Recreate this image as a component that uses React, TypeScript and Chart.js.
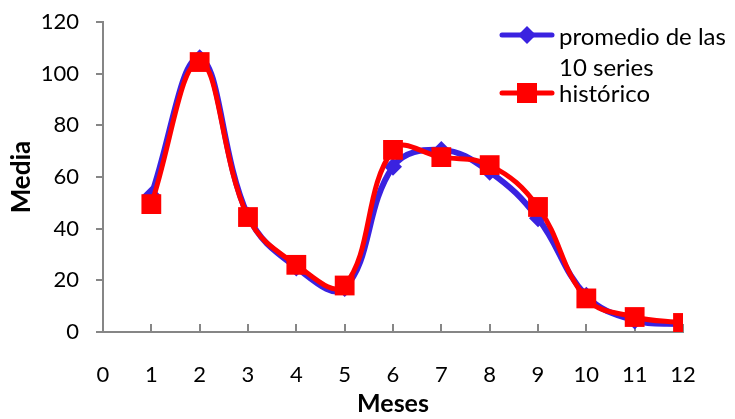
import React, { useEffect, useRef } from "react";
import { Chart, registerables } from "chart.js";

Chart.register(...registerables);

const months = [1, 2, 3, 4, 5, 6, 7, 8, 9, 10, 11, 12];
const promedio = [53, 106, 45, 25, 17, 64, 70.5, 62, 44, 14, 4.5, 3];
const historico = [49.5, 104.5, 44.5, 26, 18, 70.5, 67.7, 64.6, 48.4, 13, 5.8, 3.5];
const legendLabels = ["promedio de las", "10 series", "histórico"];

const BLUE = "#3a22e0";
const RED = "#ff0000";
const AXIS = "#868686";
const FONT = "Lato, 'Open Sans', sans-serif";

const decorPlugin = {
  id: "decor",
  beforeDatasetsDraw(chart: any) {
    const ctx = chart.ctx;
    const xs = chart.scales.x;
    const ys = chart.scales.y;
    const y0 = ys.getPixelForValue(0);
    ctx.save();
    ctx.strokeStyle = AXIS;
    ctx.lineWidth = 2;
    for (let i = 1; i <= 12; i++) {
      const px = Math.round(xs.getPixelForValue(i));
      ctx.beginPath();
      ctx.moveTo(px, y0);
      ctx.lineTo(px, y0 - 8);
      ctx.stroke();
    }
    ctx.restore();
  },
  afterDraw(chart: any) {
    const ctx = chart.ctx;
    ctx.save();
    ctx.strokeStyle = BLUE;
    ctx.lineWidth = 5;
    ctx.lineCap = "round";
    ctx.beginPath();
    ctx.moveTo(502, 35);
    ctx.lineTo(552, 35);
    ctx.stroke();
    ctx.fillStyle = BLUE;
    ctx.beginPath();
    ctx.moveTo(527, 26);
    ctx.lineTo(536, 35);
    ctx.lineTo(527, 44);
    ctx.lineTo(518, 35);
    ctx.closePath();
    ctx.fill();
    ctx.strokeStyle = RED;
    ctx.beginPath();
    ctx.moveTo(502, 93);
    ctx.lineTo(552, 93);
    ctx.stroke();
    ctx.fillStyle = RED;
    ctx.fillRect(517, 83, 20, 20);
    ctx.fillStyle = "#000";
    ctx.font = `24px ${FONT}`;
    ctx.textBaseline = "middle";
    ctx.textAlign = "left";
    ctx.fillText(legendLabels[0], 559, 37);
    ctx.fillText(legendLabels[1], 559, 68);
    ctx.fillText(legendLabels[2], 559, 94);
    ctx.restore();
  },
};

export default function App() {
  const ref = useRef<HTMLCanvasElement | null>(null);
  useEffect(() => {
    if (!ref.current) return;
    const chart = new Chart(ref.current, {
      type: "line",
      data: {
        datasets: [
          {
            label: "promedio de las 10 series",
            data: months.map((m, i) => ({ x: m, y: promedio[i] })),
            borderColor: BLUE,
            backgroundColor: BLUE,
            borderWidth: 6,
            tension: 0.4,
            pointStyle: "rectRot",
            pointRadius: 9,
            pointBorderWidth: 0,
            order: 2,
          },
          {
            label: "histórico",
            data: months.map((m, i) => ({ x: m, y: historico[i] })),
            borderColor: RED,
            backgroundColor: RED,
            borderWidth: 5,
            tension: 0.4,
            pointStyle: "rect",
            pointRadius: 14,
            pointBorderWidth: 0,
            order: 1,
          },
        ],
      },
      options: {
        responsive: false,
        animation: false,
        layout: { padding: { top: 22, right: 52, left: 0, bottom: 0 } },
        plugins: { legend: { display: false }, tooltip: { enabled: false } },
        scales: {
          x: {
            type: "linear",
            min: 0,
            max: 12,
            ticks: { stepSize: 1, color: "#000", font: { family: FONT, size: 22 }, padding: 30 },
            grid: { drawOnChartArea: false, drawTicks: false },
            border: { color: AXIS, width: 2 },
            title: { display: true, text: "Meses", color: "#000", font: { family: FONT, size: 25, weight: "bold" }, padding: { top: 0, bottom: 0 } },
            afterFit(scale: any) {
              scale.height = 87;
              scale.paddingLeft = 0;
              scale.paddingRight = 0;
            },
          },
          y: {
            min: 0,
            max: 120,
            ticks: { stepSize: 20, color: "#000", font: { family: FONT, size: 22 }, padding: 17 },
            grid: { drawOnChartArea: false, drawTicks: true, tickLength: 7, color: AXIS, lineWidth: 2 },
            border: { color: AXIS, width: 2 },
            title: { display: true, text: "Media", color: "#000", font: { family: FONT, size: 26, weight: "bold" }, padding: { top: 6, bottom: 0 } },
            afterFit(scale: any) {
              scale.width = 103;
              scale.paddingTop = 0;
              scale.paddingBottom = 0;
            },
          },
        },
      },
      plugins: [decorPlugin],
    } as any);
    return () => chart.destroy();
  }, []);
  return (
    <div style={{ position: "fixed", left: 0, top: 0, width: 735, height: 419, background: "#fff" }}>
      <canvas ref={ref} width={735} height={419} />
    </div>
  );
}
